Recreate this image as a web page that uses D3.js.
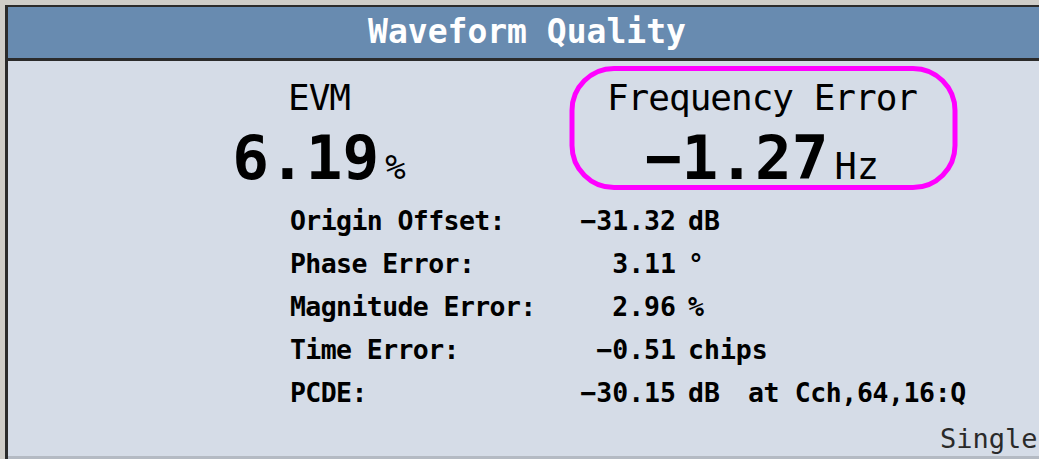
<!DOCTYPE html>
<html>
<head>
<meta charset="utf-8">
<script src="https://cdn.jsdelivr.net/npm/d3@7"></script>
<style>
  body { margin: 0; background: #cfcdc8; }
  svg { display: block; }
  text { font-family: "DejaVu Sans Mono", monospace; }
</style>
</head>
<body>
<svg width="1039" height="459"></svg>
<script>
/*
 * Values shown on the measurement screen
 */
var title = "Waveform Quality";
var mainNames = ["EVM", "Frequency Error"];
var mainValues = [6.19, -1.27];
var mainUnits = ["%", "Hz"];
var highlighted = "Frequency Error";

var rowLabels = ["Origin Offset:", "Phase Error:", "Magnitude Error:", "Time Error:", "PCDE:"];
var rowValues = [-31.32, 3.11, 2.96, -0.51, -30.15];
var rowUnits = ["dB", "°", "%", "chips", "dB"];
var rowNotes = ["", "", "", "", "at Cch,64,16:Q"];
var status = "Single";

/*
 * Screen frame
 */
function frame(svg) {
  svg.append("rect").attr("x", 0).attr("y", 0).attr("width", 1039).attr("height", 459).attr("fill", "#cfcdc8");
  svg.append("rect").attr("x", 5).attr("y", 5).attr("width", 1034).attr("height", 454).attr("fill", "#2b2b2b");
  svg.append("rect").attr("x", 8).attr("y", 7).attr("width", 1031).attr("height", 51).attr("fill", "#688bb0");
  svg.append("rect").attr("x", 8).attr("y", 61).attr("width", 1031).attr("height", 395).attr("fill", "#d5dce7");
  svg.append("rect").attr("x", 8).attr("y", 456).attr("width", 1031).attr("height", 3).attr("fill", "#b4bac3");
  svg.append("text")
    .attr("x", 527).attr("y", 43)
    .attr("text-anchor", "middle")
    .attr("font-size", 33).attr("font-weight", "bold")
    .attr("fill", "#fff")
    .text(title);
}

function visualize() {
  var svg = d3.select("svg");
  frame(svg);

  var fmt = d3.format(".2f");

  // the two big readouts
  var col = d3.scalePoint().domain(mainNames).range([319, 762]);

  var big = svg.append("g").selectAll("g")
    .data(mainNames)
    .enter().append("g");

  big.append("text")
    .attr("x", function(d) { return col(d); })
    .attr("y", 110)
    .attr("text-anchor", "middle")
    .attr("font-size", 36).attr("letter-spacing", -1)
    .attr("fill", "#000")
    .text(function(d) { return d; });

  var num = big.append("text")
    .attr("x", function(d) { return col(d); })
    .attr("y", 179)
    .attr("text-anchor", "middle")
    .attr("fill", "#000");
  num.append("tspan")
    .attr("font-size", 61).attr("font-weight", "bold")
    .text(function(d, i) { return fmt(mainValues[i]); });
  num.append("tspan")
    .attr("dx", 6)
    .attr("font-size", function(d, i) { return i == 0 ? 34 : 37; })
    .text(function(d, i) { return mainUnits[i]; });

  // highlight around the frequency error
  var hx = col(highlighted);
  svg.append("rect")
    .attr("x", hx - 190).attr("y", 68.5)
    .attr("width", 383).attr("height", 119)
    .attr("rx", 42).attr("ry", 42)
    .attr("fill", "none")
    .attr("stroke", "#ff00ff")
    .attr("stroke-width", 5);

  // detail rows
  var y = d3.scalePoint().domain(rowLabels).range([230, 402]);

  var rows = svg.append("g")
      .attr("font-size", 26.5)
      .attr("font-weight", "bold")
      .attr("fill", "#000")
    .selectAll("g")
    .data(rowLabels)
    .enter().append("g")
      .attr("transform", function(d) { return "translate(0," + y(d) + ")"; });

  rows.append("text")
    .attr("x", 290)
    .attr("letter-spacing", -0.6)
    .text(function(d) { return d; });

  rows.append("text")
    .attr("x", 676)
    .attr("text-anchor", "end")
    .text(function(d, i) { return fmt(rowValues[i]); });

  rows.append("text")
    .attr("x", 688)
    .text(function(d, i) { return rowUnits[i]; });

  rows.append("text")
    .attr("x", 748)
    .attr("letter-spacing", -0.4)
    .text(function(d, i) { return rowNotes[i]; });

  svg.append("text")
    .attr("x", 940).attr("y", 448)
    .attr("font-size", 27)
    .attr("fill", "#2a2a2a")
    .text(status);
}

visualize();
</script>
</body>
</html>
